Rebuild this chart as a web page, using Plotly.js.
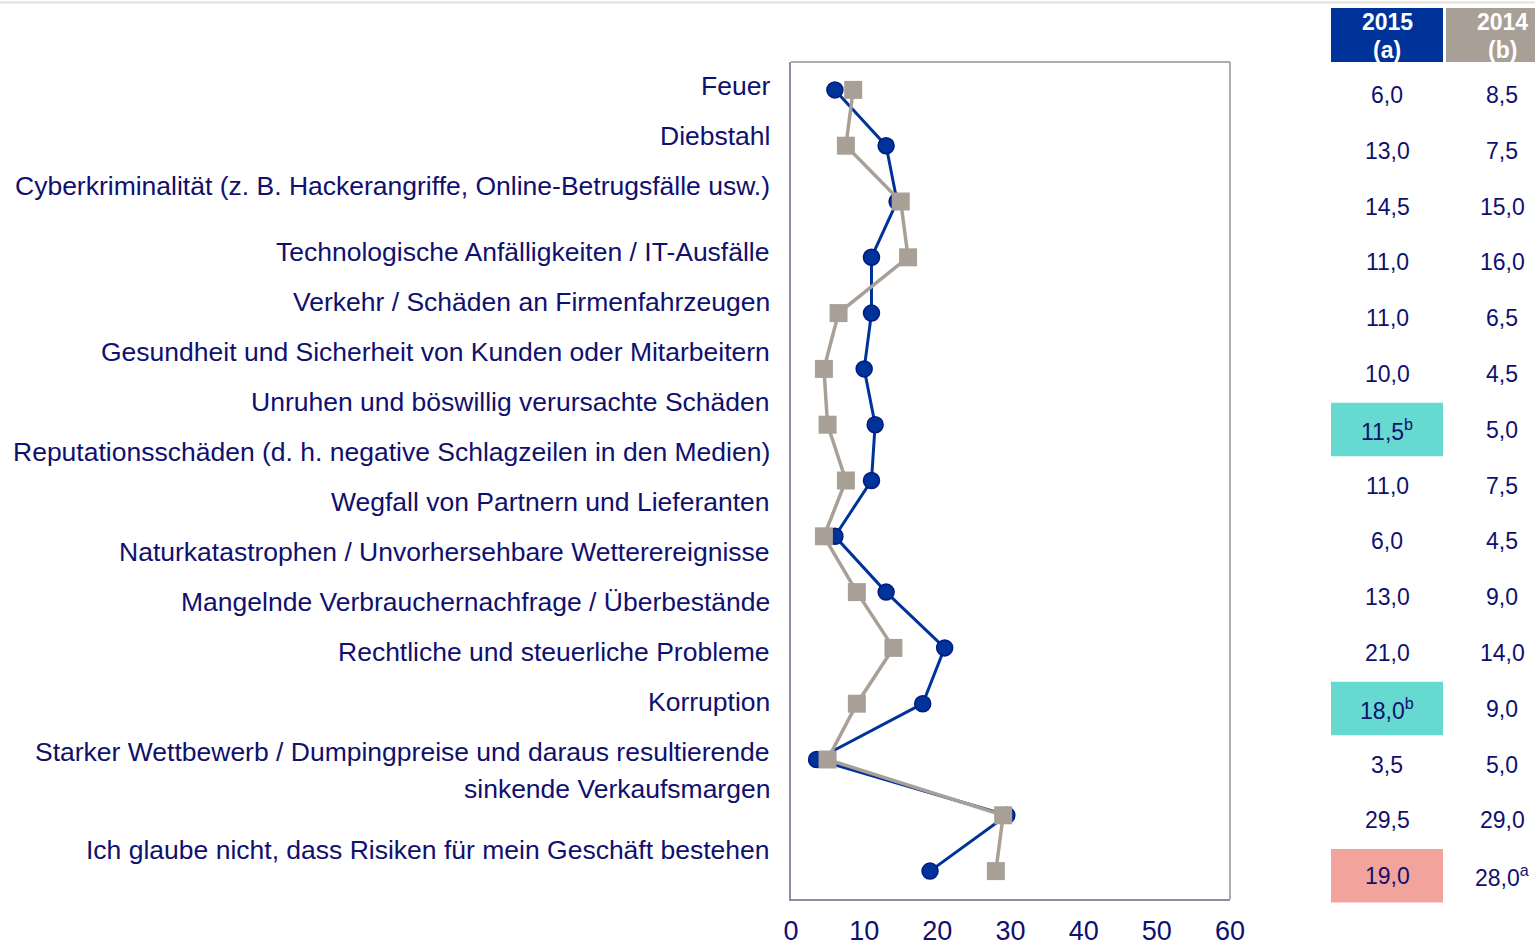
<!DOCTYPE html>
<html>
<head>
<meta charset="utf-8">
<script src="https://cdn.plot.ly/plotly-3.0.1.min.js"></script>
<style>
html,body{margin:0;padding:0;background:#fff;}
#chart{width:1535px;height:949px;}
</style>
</head>
<body>
<div id="chart"></div>
<script>
// ---- data ----
const categories = [
  "Feuer",
  "Diebstahl",
  "Cyberkriminalität (z. B. Hackerangriffe, Online-Betrugsfälle usw.)",
  "Technologische Anfälligkeiten / IT-Ausfälle",
  "Verkehr / Schäden an Firmenfahrzeugen",
  "Gesundheit und Sicherheit von Kunden oder Mitarbeitern",
  "Unruhen und böswillig verursachte Schäden",
  "Reputationsschäden (d. h. negative Schlagzeilen in den Medien)",
  "Wegfall von Partnern und Lieferanten",
  "Naturkatastrophen / Unvorhersehbare Wetterereignisse",
  "Mangelnde Verbrauchernachfrage / Überbestände",
  "Rechtliche und steuerliche Probleme",
  "Korruption",
  "Starker Wettbewerb / Dumpingpreise und daraus resultierende<br>sinkende Verkaufsmargen",
  "Ich glaube nicht, dass Risiken für mein Geschäft bestehen"
];
const values2015 = [6.0, 13.0, 14.5, 11.0, 11.0, 10.0, 11.5, 11.0, 6.0, 13.0, 21.0, 18.0, 3.5, 29.5, 19.0];
const values2014 = [8.5, 7.5, 15.0, 16.0, 6.5, 4.5, 5.0, 7.5, 4.5, 9.0, 14.0, 9.0, 5.0, 29.0, 28.0];
const sup2015 = ["", "", "", "", "", "", "b", "", "", "", "", "b", "", "", ""];
const sup2014 = ["", "", "", "", "", "", "", "", "", "", "", "", "", "", "a"];
const highlight2015 = ["", "", "", "", "", "", "up", "", "", "", "", "up", "", "", "down"];
const seriesNames = ["2015", "2014"];
const seriesSub = ["(a)", "(b)"];
const xTicks = [0, 10, 20, 30, 40, 50, 60];

// ---- layout constants (pixels) ----
const W = 1535, H = 949;
const PL = 791, PR = 1230, PT = 62, PB = 899;
const labelPx = [86, 136, 186, 252, 302, 352, 402, 452, 502, 552, 602, 652, 702, 752, 850];
const LINE_GAP = 37;
const BLUE = "#003399", GREY = "#a8a097", TXT = "#10106e";
const FONT = "Liberation Sans, Arial, sans-serif";

const px2x = p => (p - PL) / (PR - PL);
const px2y = p => (PB - p) / (PB - PT);

const idx = categories.map((_, i) => i);
const fmt = v => v.toFixed(1).replace(".", ",");

const traces = [
  {
    x: values2015, y: idx, type: "scatter", mode: "lines+markers", name: seriesNames[0],
    line: {color: BLUE, width: 3},
    marker: {symbol: "circle", size: 16, color: BLUE, line: {color: "#001a80", width: 1.5}},
    cliponaxis: false, hoverinfo: "x"
  },
  {
    x: values2014, y: idx, type: "scatter", mode: "lines+markers", name: seriesNames[1],
    line: {color: GREY, width: 3.5},
    marker: {symbol: "square", size: 18, color: GREY, line: {width: 0}},
    cliponaxis: false, hoverinfo: "x"
  }
];

const annotations = [];
const shapes = [];

// category labels
categories.forEach((c, i) => {
  const lines = c.split("<br>");
  lines.forEach((ln, k) => {
    annotations.push({
      xref: "paper", yref: "paper", x: px2x(772), y: px2y(labelPx[i] + k * LINE_GAP),
      xanchor: "right", yanchor: "middle", text: ln, showarrow: false,
      font: {family: FONT, size: 26.5, color: TXT}
    });
  });
});

// table header
const colCenter = [1387, 1502];
const headerCells = [[1331, 1443, BLUE], [1446, 1560, GREY]];
headerCells.forEach((h, k) => {
  shapes.push({type: "rect", xref: "paper", yref: "paper",
    x0: px2x(h[0]), x1: px2x(h[1]), y0: px2y(62), y1: px2y(8),
    fillcolor: h[2], line: {width: 0}, layer: "below"});
  annotations.push({xref: "paper", yref: "paper", x: px2x(colCenter[k]), y: px2y(22),
    text: "<b>" + seriesNames[k] + "</b>", showarrow: false, xanchor: "center", yanchor: "middle",
    font: {family: FONT, size: 23, color: "#ffffff"}});
  annotations.push({xref: "paper", yref: "paper", x: px2x(colCenter[k]), y: px2y(50),
    text: "<b>" + seriesSub[k] + "</b>", showarrow: false, xanchor: "center", yanchor: "middle",
    font: {family: FONT, size: 23, color: "#ffffff"}});
});

// table values
const rowStep = (PB - PT) / categories.length;
categories.forEach((_, i) => {
  const rowCenterPx = PT + (i + 0.5) * rowStep + 5;
  if (highlight2015[i]) {
    shapes.push({type: "rect", xref: "paper", yref: "paper",
      x0: px2x(1331), x1: px2x(1443), y0: px2y(rowCenterPx + 26.5), y1: px2y(rowCenterPx - 27),
      fillcolor: highlight2015[i] === "up" ? "#66d9d0" : "#f2a39c", line: {width: 0}, layer: "below"});
  }
  annotations.push({xref: "paper", yref: "y", x: px2x(colCenter[0]), y: i, yshift: -5,
    text: fmt(values2015[i]) + (sup2015[i] ? "<sup>" + sup2015[i] + "</sup>" : ""),
    showarrow: false, xanchor: "center", yanchor: "middle",
    font: {family: FONT, size: 23, color: TXT}});
  annotations.push({xref: "paper", yref: "y", x: px2x(colCenter[1]), y: i, yshift: -5,
    text: fmt(values2014[i]) + (sup2014[i] ? "<sup>" + sup2014[i] + "</sup>" : ""),
    showarrow: false, xanchor: "center", yanchor: "middle",
    font: {family: FONT, size: 23, color: TXT}});
});

// frame: top & right in grey-brown, left & bottom via axis lines
shapes.push({type: "line", xref: "paper", yref: "paper", x0: 0, x1: 1, y0: 1, y1: 1,
  line: {color: "#b4aca4", width: 2}});
shapes.push({type: "line", xref: "paper", yref: "paper", x0: 1, x1: 1, y0: 0, y1: 1,
  line: {color: "#b4aca4", width: 2}});
// thin rule at very top of page
shapes.push({type: "line", xref: "paper", yref: "paper", x0: px2x(0), x1: px2x(W), y0: px2y(2.5), y1: px2y(2.5),
  line: {color: "#e4ded8", width: 2}});

const layout = {
  width: W, height: H,
  margin: {l: PL, r: W - PR, t: PT, b: H - PB, pad: 0},
  paper_bgcolor: "#ffffff", plot_bgcolor: "#ffffff",
  showlegend: false,
  font: {family: FONT, color: TXT},
  xaxis: {
    range: [0, 60], tickvals: xTicks, ticktext: xTicks.map(String),
    showgrid: false, zeroline: false, showline: true, linecolor: "#8c8ca8", linewidth: 2,
    ticks: "", ticklabelstandoff: 7,
    tickfont: {family: FONT, size: 27, color: TXT}, fixedrange: true
  },
  yaxis: {
    range: [categories.length - 0.5, -0.5], showticklabels: false,
    showgrid: false, zeroline: false, showline: true, linecolor: "#8c8ca8", linewidth: 2,
    ticks: "", fixedrange: true
  },
  shapes: shapes,
  annotations: annotations
};

Plotly.newPlot("chart", traces, layout, {displayModeBar: false, staticPlot: true});
</script>
</body>
</html>
